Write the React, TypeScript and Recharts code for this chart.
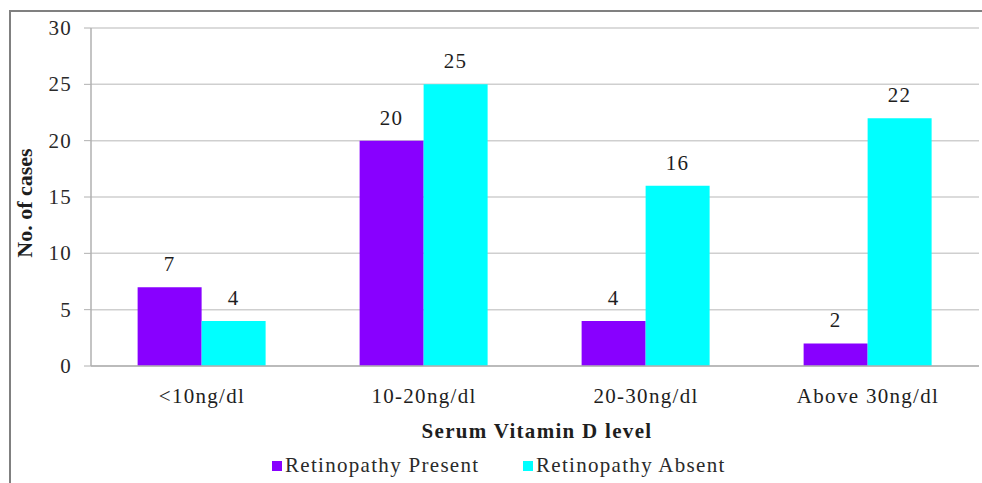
import { Bar, BarChart, CartesianGrid, LabelList, XAxis, YAxis } from "recharts";

const levels = ["<10ng/dl", "10-20ng/dl", "20-30ng/dl", "Above 30ng/dl"];
const present = [7, 20, 4, 2];
const absent = [4, 25, 16, 22];
const yTicks = [0, 5, 10, 15, 20, 25, 30];

const PURPLE = "#8800ff";
const CYAN = "#00ffff";
const FONT = '"Liberation Serif", "Times New Roman", serif';
const SPACING = 1.3;

const data = levels.map((level, i) => ({ level, present: present[i], absent: absent[i] }));

type TickProps = { x?: number; y?: number; payload?: { value?: string | number } };

function YTick({ x = 0, y = 0, payload }: TickProps) {
  return (
    <text x={x} y={y} dy={7} textAnchor="end" fill="#2a2a2a" fontSize={21} fontFamily={FONT} style={{ letterSpacing: SPACING }}>
      {payload?.value}
    </text>
  );
}

function XTick({ x = 0, y = 0, payload }: TickProps) {
  return (
    <text x={x} y={y} dy={19} textAnchor="middle" fill="#1e1e1e" fontSize={21} fontFamily={FONT} style={{ letterSpacing: SPACING }}>
      {payload?.value}
    </text>
  );
}

function valueLabel(props: { x?: number | string; y?: number | string; width?: number | string; value?: number | string }) {
  const x = Number(props.x) + Number(props.width) / 2;
  const y = Number(props.y);
  return (
    <text x={x} y={y - 16} textAnchor="middle" fill="#1e1e1e" fontSize={21} fontFamily={FONT} style={{ letterSpacing: SPACING }}>
      {props.value}
    </text>
  );
}

export default function App() {
  return (
    <div style={{ position: "fixed", left: 0, top: 0, width: 982, height: 483, background: "#fff", overflow: "hidden", fontFamily: FONT }}>
      {/* frame: only the top and left edges show */}
      <div style={{ position: "absolute", left: 9, top: 10, width: 990, height: 500, borderLeft: "2px solid #808080", borderTop: "2px solid #808080" }} />
      <BarChart
        width={982}
        height={483}
        data={data}
        margin={{ top: 28, right: 3, left: 0, bottom: 87 }}
        barCategoryGap="21%"
        barGap={0}
        style={{ position: "absolute", left: 0, top: 0 }}
      >
        <CartesianGrid vertical={false} stroke="#cfcfcf" strokeWidth={1.5} />
        <XAxis
          dataKey="level"
          height={30}
          axisLine={{ stroke: "#b0b0b0", strokeWidth: 1.5 }}
          tickLine={false}
          tickMargin={12}
          tick={<XTick />}
        />
        <YAxis
          width={91}
          domain={[0, 30]}
          ticks={yTicks}
          interval={0}
          axisLine={{ stroke: "#b0b0b0", strokeWidth: 1.5 }}
          tickLine={{ stroke: "#b0b0b0" }}
          tickSize={7}
          tickMargin={12}
          tick={<YTick />}
        />
        <Bar dataKey="present" fill={PURPLE} isAnimationActive={false}>
          <LabelList dataKey="present" content={valueLabel} />
        </Bar>
        <Bar dataKey="absent" fill={CYAN} isAnimationActive={false}>
          <LabelList dataKey="absent" content={valueLabel} />
        </Bar>
      </BarChart>

      {/* axis titles */}
      <div
        style={{
          position: "absolute",
          left: 25,
          top: 203,
          transform: "translate(-50%, -50%) rotate(-90deg)",
          fontSize: 22,
          fontWeight: 700,
          color: "#1e1e1e",
          whiteSpace: "nowrap",
        }}
      >
        No. of cases
      </div>
      <div
        style={{
          position: "absolute",
          left: 537,
          top: 431,
          transform: "translate(-50%, -50%)",
          fontSize: 21,
          fontWeight: 700,
          letterSpacing: SPACING,
          color: "#1e1e1e",
          whiteSpace: "nowrap",
        }}
      >
        Serum Vitamin D level
      </div>

      {/* legend */}
      <div style={{ position: "absolute", left: 272, top: 453, display: "flex", alignItems: "center", fontSize: 21, letterSpacing: SPACING, color: "#2a2a2a", whiteSpace: "nowrap" }}>
        <span style={{ display: "inline-block", width: 10, height: 10, background: PURPLE, marginRight: 3 }} />
        <span>Retinopathy Present</span>
      </div>
      <div style={{ position: "absolute", left: 523, top: 453, display: "flex", alignItems: "center", fontSize: 21, letterSpacing: SPACING, color: "#2a2a2a", whiteSpace: "nowrap" }}>
        <span style={{ display: "inline-block", width: 10, height: 10, background: CYAN, marginRight: 3 }} />
        <span>Retinopathy Absent</span>
      </div>
    </div>
  );
}
